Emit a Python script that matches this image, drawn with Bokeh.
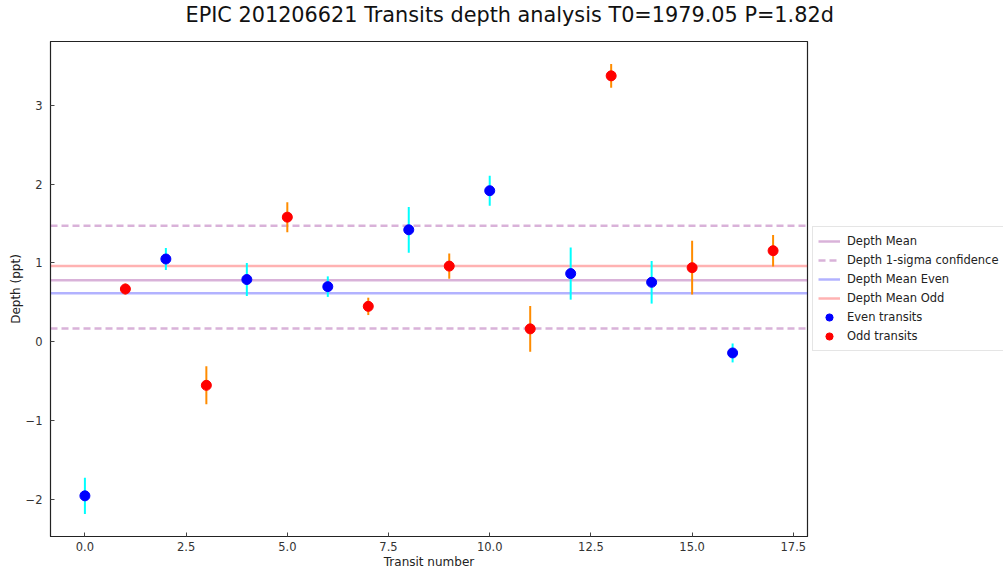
from bokeh.plotting import figure
from bokeh.layouts import row, column
from bokeh.models import Legend, LegendItem, FixedTicker, CustomJSTickFormatter, Range1d, ColumnDataSource
from bokeh.embed import file_html
from bokeh.resources import INLINE

# ---- data ----
transit_even = [0, 2, 4, 6, 8, 10, 12, 14, 16]
depth_even = [-1.95, 1.05, 0.79, 0.70, 1.42, 1.915, 0.865, 0.755, -0.14]
err_even = [0.23, 0.14, 0.21, 0.13, 0.29, 0.19, 0.33, 0.27, 0.12]

transit_odd = [1, 3, 5, 7, 9, 11, 13, 15, 17]
depth_odd = [0.67, -0.55, 1.58, 0.45, 0.96, 0.165, 3.37, 0.94, 1.155]
err_odd = [0.07, 0.24, 0.19, 0.11, 0.16, 0.29, 0.15, 0.34, 0.20]

depth_mean = 0.78
depth_sigma_low = 0.17
depth_sigma_high = 1.47
depth_mean_even = 0.615
depth_mean_odd = 0.96

x_ticks = [0, 2.5, 5, 7.5, 10, 12.5, 15, 17.5]
y_ticks = [-2, -1, 0, 1, 2, 3]

title_text = "EPIC 201206621 Transits depth analysis T0=1979.05 P=1.82d"
legend_labels = ["Depth Mean", "Depth 1-sigma confidence", "Depth Mean Even",
                 "Depth Mean Odd", "Even transits", "Odd transits"]

# ---- ranges (matplotlib-like 5% margins) ----
all_x = transit_even + transit_odd
lo = [d - e for d, e in zip(depth_even + depth_odd, err_even + err_odd)]
hi = [d + e for d, e in zip(depth_even + depth_odd, err_even + err_odd)]
xmin, xmax = min(all_x), max(all_x)
ymin, ymax = min(lo), max(hi)
xm = 0.05 * (xmax - xmin)
ym = 0.05 * (ymax - ymin)
x0, x1 = xmin - xm, xmax + xm

FONT = "DejaVu Sans"

# styles
MEAN = dict(line_color="purple", line_alpha=0.3, line_width=2.5)
SIG = dict(line_color="purple", line_alpha=0.3, line_width=2.5, line_dash="7 4")
EVEN_M = dict(line_color="blue", line_alpha=0.3, line_width=2.5)
ODD_M = dict(line_color="red", line_alpha=0.3, line_width=2.5)
EVEN_E = dict(line_color="cyan", line_width=2)
ODD_E = dict(line_color="darkorange", line_width=2)
EVEN_P = dict(size=10, fill_color="blue", line_color="blue", marker="circle")
ODD_P = dict(size=10, fill_color="red", line_color="red", marker="circle")

# ---- title strip ----
tf = figure(width=1003, height=41, title=title_text,
            x_axis_location=None, y_axis_location=None,
            output_backend="svg", toolbar_location=None,
            min_border_left=0, min_border_right=0, min_border_top=8, min_border_bottom=0,
            background_fill_color="white", border_fill_color="white")
tf.outline_line_color = None
tf.grid.visible = False
tf.title.align = "left"
tf.title.offset = 185
tf.title.text_font = FONT
tf.title.text_font_size = "20.8px"
tf.title.text_font_style = "normal"
tf.title.text_color = "#111111"
tf.title.standoff = 1

# ---- main plot ----
p = figure(width=812, height=530, title=None,
           x_range=Range1d(x0, x1), y_range=Range1d(ymin - ym, ymax + ym),
           output_backend="svg", toolbar_location=None,
           min_border_left=50, min_border_right=5, min_border_top=0, min_border_bottom=34,
           background_fill_color="white", border_fill_color="white")

p.xgrid.visible = False
p.ygrid.visible = False
p.outline_line_color = "#222222"
p.outline_line_width = 1.2

for ax in (p.xaxis[0], p.yaxis[0]):
    ax.major_tick_in = 4
    ax.major_tick_out = 0
    ax.minor_tick_in = 0
    ax.minor_tick_out = 0
    ax.major_tick_line_color = "#444444"
    ax.axis_line_color = "#222222"
    ax.major_label_text_font = FONT
    ax.major_label_text_font_size = "11.5px"
    ax.major_label_text_color = "#333333"
    ax.axis_label_text_font = FONT
    ax.axis_label_text_font_size = "12px"
    ax.axis_label_text_font_style = "normal"
    ax.axis_label_text_color = "#222222"

p.xaxis.major_label_standoff = 5
p.yaxis.major_label_standoff = 8
p.xaxis.ticker = FixedTicker(ticks=x_ticks)
p.yaxis.ticker = FixedTicker(ticks=y_ticks)
p.xaxis.formatter = CustomJSTickFormatter(code="return tick.toFixed(1);")
p.yaxis.formatter = CustomJSTickFormatter(
    code="return tick < 0 ? '\u2212' + Math.abs(tick).toFixed(0) : tick.toFixed(0);")
p.xaxis.axis_label = "Transit number"
p.yaxis.axis_label = "Depth (ppt)"
p.xaxis.axis_label_standoff = 1
p.yaxis.axis_label_standoff = 0

# ---- horizontal reference lines ----
hx = [x0, x1]
p.line(hx, [depth_mean] * 2, **MEAN)
p.line(hx, [depth_sigma_high] * 2, **SIG)
p.line(hx, [depth_sigma_low] * 2, **SIG)
p.line(hx, [depth_mean_even] * 2, **EVEN_M)
p.line(hx, [depth_mean_odd] * 2, **ODD_M)

# ---- transits ----
src_even = ColumnDataSource(dict(x=transit_even, y=depth_even,
                                 lo=[d - e for d, e in zip(depth_even, err_even)],
                                 hi=[d + e for d, e in zip(depth_even, err_even)]))
src_odd = ColumnDataSource(dict(x=transit_odd, y=depth_odd,
                                lo=[d - e for d, e in zip(depth_odd, err_odd)],
                                hi=[d + e for d, e in zip(depth_odd, err_odd)]))

p.segment(x0="x", y0="lo", x1="x", y1="hi", source=src_even, **EVEN_E)
p.scatter(x="x", y="y", source=src_even, **EVEN_P)
p.segment(x0="x", y0="lo", x1="x", y1="hi", source=src_odd, **ODD_E)
p.scatter(x="x", y="y", source=src_odd, **ODD_P)

# ---- legend panel (separate figure to the right; its view is kept away
#      from the data so only the legend shows) ----
lg = figure(width=191, height=530, title=None,
            x_range=Range1d(1000, 1001), y_range=Range1d(1000, 1001),
            x_axis_location=None, y_axis_location=None,
            output_backend="svg", toolbar_location=None,
            min_border_left=0, min_border_right=0, min_border_top=0, min_border_bottom=0,
            background_fill_color="white", border_fill_color="white")
lg.outline_line_color = None
lg.grid.visible = False

l_mean = lg.line(hx, [depth_mean] * 2, **MEAN)
l_sig = lg.line(hx, [depth_sigma_high] * 2, **SIG)
l_even = lg.line(hx, [depth_mean_even] * 2, **EVEN_M)
l_odd = lg.line(hx, [depth_mean_odd] * 2, **ODD_M)
l_ep = lg.scatter(x="x", y="y", source=src_even, **EVEN_P)
l_op = lg.scatter(x="x", y="y", source=src_odd, **ODD_P)

legend = Legend(items=[
    LegendItem(label=legend_labels[0], renderers=[l_mean]),
    LegendItem(label=legend_labels[1], renderers=[l_sig]),
    LegendItem(label=legend_labels[2], renderers=[l_even]),
    LegendItem(label=legend_labels[3], renderers=[l_odd]),
    LegendItem(label=legend_labels[4], renderers=[l_ep]),
    LegendItem(label=legend_labels[5], renderers=[l_op]),
], location=(0, 185))
legend.margin = 0
legend.padding = 5
legend.spacing = 1
legend.glyph_width = 22
legend.glyph_height = 18
legend.label_height = 18
legend.label_standoff = 7
legend.label_text_font = FONT
legend.label_text_font_size = "11.5px"
legend.label_text_color = "#222222"
legend.border_line_color = "#cccccc"
legend.border_line_width = 1
legend.background_fill_color = "white"
legend.background_fill_alpha = 1.0
lg.add_layout(legend, "center")

layout = column(tf, row(p, lg))
open("out.html", "w").write(file_html(layout, INLINE))
